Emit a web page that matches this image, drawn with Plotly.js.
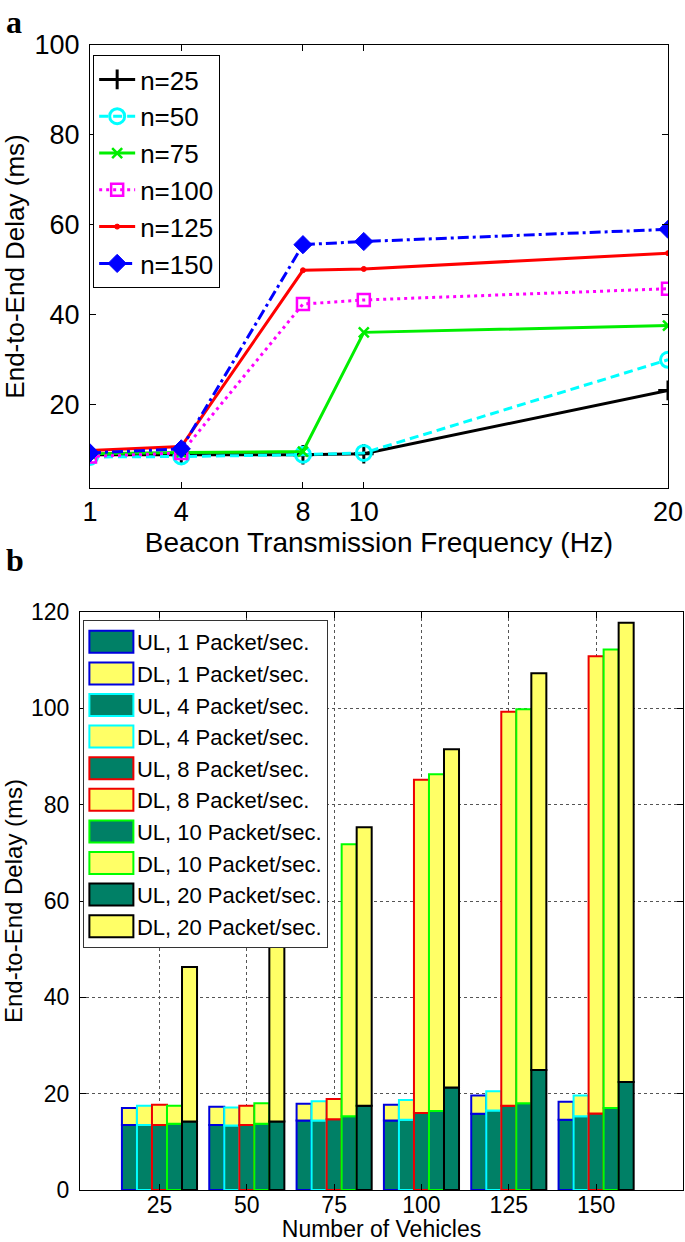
<!DOCTYPE html>
<html>
<head>
<meta charset="utf-8">
<script src="https://cdn.plot.ly/plotly-3.0.1.min.js"></script>
<style>html,body{margin:0;padding:0;background:#fff;}#chart{width:685px;height:1242px;}</style>
</head>
<body>
<div id="chart"></div>
<script>
// ---------- Panel a data ----------
const freqTop = [1, 4, 8, 10, 20];
const n25  = [8.9, 8.9, 8.9, 9.1, 23.2];
const n50  = [8.4, 8.5, 8.9, 9.3, 30.0];
const n75  = [9.1, 9.4, 9.6, 36.1, 37.6];
const n100 = [8.5, 9.3, 42.4, 43.3, 45.8];
const n125 = [9.85, 10.7, 49.9, 50.2, 53.7];
const n150 = [9.3, 10.2, 55.6, 56.3, 59.0];
const topTicksX = [1, 4, 8, 10, 20];
const topTicksY = [20, 40, 60, 80, 100];

// ---------- Panel b data ----------
const vehicles = ['25', '50', '75', '100', '125', '150'];
const rates = ['1', '4', '8', '10', '20'];
const ul1  = [13.5, 13.5, 14.4, 14.4, 15.8, 14.6];
const tot1 = [17.0, 17.3, 17.9, 17.7, 19.6, 18.3];
const ul4  = [13.5, 13.4, 14.4, 14.6, 16.5, 15.3];
const tot4 = [17.5, 17.1, 18.4, 18.7, 20.5, 19.6];
const ul8  = [13.5, 13.5, 14.7, 16.0, 17.5, 15.9];
const tot8 = [17.7, 17.5, 18.9, 85.2, 99.3, 110.8];
const ul10  = [13.75, 13.75, 15.3, 16.4, 18.0, 17.0];
const tot10 = [17.5, 18.0, 71.8, 86.3, 99.8, 112.2];
const ul20  = [14.2, 14.2, 17.5, 21.3, 24.9, 22.4];
const tot20 = [46.3, 61.0, 75.3, 91.5, 107.3, 117.8];

const FONT = 'Liberation Sans, Arial, Helvetica, sans-serif';
const traces = [];

// Panel a lines
const lineSpecs = [
  {name: 'n=25',  y: n25,  color: '#000000', dash: 'solid',   sym: 'cross-thin-open', size: 14, lw: 3},
  {name: 'n=50',  y: n50,  color: '#00ffff', dash: '9px,5px', sym: 'circle-open', size: 15, lw: 3},
  {name: 'n=75',  y: n75,  color: '#00ee00', dash: 'solid',   sym: 'x-thin-open', size: 10, lw: 2.5},
  {name: 'n=100', y: n100, color: '#ff00ff', dash: '3px,4px', sym: 'square-open', size: 12, lw: 2.5},
  {name: 'n=125', y: n125, color: '#ff0000', dash: 'solid',   sym: 'circle', size: 5, lw: 1},
  {name: 'n=150', y: n150, color: '#0000ff', dash: '11px,4px,3px,4px', sym: 'diamond', size: 14, lw: 1}
];
lineSpecs.forEach(s => {
  traces.push({
    type: 'scatter', mode: 'lines+markers', x: freqTop, y: s.y, name: s.name,
    xaxis: 'x', yaxis: 'y', legend: 'legend',
    line: {color: s.color, width: 3, dash: s.dash},
    marker: {symbol: s.sym, size: s.size, color: s.color, line: {color: s.color, width: s.lw}}
  });
});

// Panel b bars
const UL_COLOR = 'rgb(0,128,102)';
const DL_COLOR = 'rgb(255,255,102)';
const edges = ['#0000dd', '#00ffff', '#ee0000', '#00ff00', '#000000'];
const ulSets = [ul1, ul4, ul8, ul10, ul20];
const totSets = [tot1, tot4, tot8, tot10, tot20];
rates.forEach((r, i) => {
  traces.push({
    type: 'bar', x: vehicles, y: ulSets[i], name: 'UL, ' + r + ' Packet/sec.',
    xaxis: 'x2', yaxis: 'y2', legend: 'legend2', offsetgroup: String(i),
    marker: {color: UL_COLOR, line: {color: edges[i], width: 2}}
  });
  traces.push({
    type: 'bar', x: vehicles, y: totSets[i].map((t, k) => t - ulSets[i][k]), base: ulSets[i],
    name: 'DL, ' + r + ' Packet/sec.',
    xaxis: 'x2', yaxis: 'y2', legend: 'legend2', offsetgroup: String(i),
    marker: {color: DL_COLOR, line: {color: edges[i], width: 2}}
  });
});

const axCommon = {
  showline: true, linecolor: '#000', linewidth: 1, mirror: 'ticks',
  ticks: 'inside', ticklen: 6, tickcolor: '#000', zeroline: false
};

const layout = {
  width: 685, height: 1242,
  margin: {l: 0, r: 0, t: 0, b: 0},
  paper_bgcolor: '#fff', plot_bgcolor: '#fff',
  font: {family: FONT, color: '#000'},
  barmode: 'group', bargap: 0.14, bargroupgap: 0,
  showlegend: true,
  xaxis: Object.assign({}, axCommon, {
    domain: [0.1314, 0.9752], anchor: 'y', range: [1, 20],
    tickmode: 'array', tickvals: topTicksX, showgrid: false,
    tickfont: {size: 27, family: FONT},
    title: {text: 'Beacon Transmission Frequency (Hz)', font: {size: 28, family: FONT}, standoff: 4}
  }),
  yaxis: Object.assign({}, axCommon, {
    domain: [0.6071, 0.9638], anchor: 'x', range: [1.5, 100],
    tickmode: 'array', tickvals: topTicksY, showgrid: false,
    tickfont: {size: 27, family: FONT}, ticklabelstandoff: 4,
    title: {text: 'End-to-End Delay (ms)', font: {size: 26, family: FONT}, standoff: 7}
  }),
  xaxis2: Object.assign({}, axCommon, {
    domain: [0.1168, 0.9971], anchor: 'y2', type: 'category', range: [-0.91, 5.995],
    showgrid: true, gridcolor: '#555', griddash: 'dot', gridwidth: 1,
    tickfont: {size: 23, family: FONT}, ticklabelstandoff: -6,
    title: {text: 'Number of Vehicles', font: {size: 23, family: FONT}, standoff: 3}
  }),
  yaxis2: Object.assign({}, axCommon, {
    domain: [0.0419, 0.5072], anchor: 'x2', range: [0, 120], dtick: 20,
    showgrid: true, gridcolor: '#555', griddash: 'dot', gridwidth: 1,
    tickfont: {size: 23, family: FONT}, ticklabelstandoff: 5,
    title: {text: 'End-to-End Delay (ms)', font: {size: 24, family: FONT}, standoff: 4}
  }),
  legend: {
    x: 0.136, y: 0.9557, xanchor: 'left', yanchor: 'top',
    bgcolor: '#fff', bordercolor: '#000', borderwidth: 1,
    font: {size: 26, family: FONT}, tracegroupgap: 0, itemwidth: 36
  },
  legend2: {
    x: 0.121, y: 0.5008, xanchor: 'left', yanchor: 'top',
    bgcolor: '#fff', bordercolor: '#333', borderwidth: 1,
    font: {size: 22, family: FONT}, tracegroupgap: 0, itemwidth: 43, traceorder: 'normal'
  },
  annotations: [
    {text: '<b>a</b>', xref: 'paper', yref: 'paper', x: 0.006, y: 0.998, xanchor: 'left', yanchor: 'top',
     showarrow: false, font: {size: 32, family: 'Liberation Serif, Times New Roman, serif'}},
    {text: '<b>b</b>', xref: 'paper', yref: 'paper', x: 0.006, y: 0.565, xanchor: 'left', yanchor: 'top',
     showarrow: false, font: {size: 32, family: 'Liberation Serif, Times New Roman, serif'}}
  ]
};

Plotly.newPlot('chart', traces, layout, {staticPlot: true}).then(() => {
  document.querySelectorAll('.legend2 .legendpoints path').forEach(p => {
    p.setAttribute('d', 'M-21,-11H23V11H-21Z');
  });
});
</script>
</body>
</html>
